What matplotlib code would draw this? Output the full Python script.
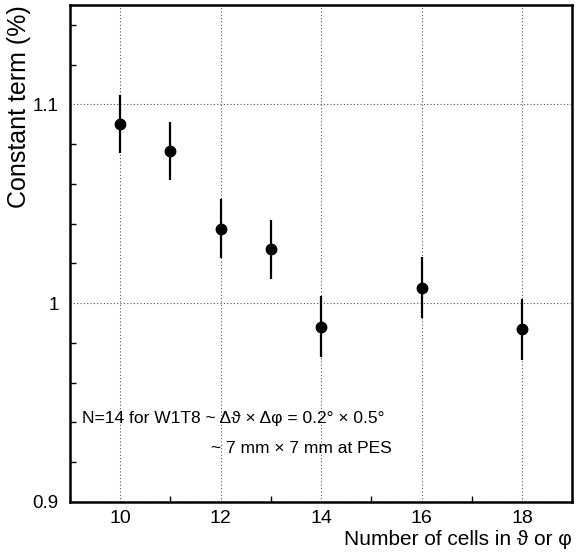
import matplotlib
matplotlib.use("Agg")
import matplotlib.pyplot as plt
from matplotlib.ticker import MultipleLocator

plt.rcParams['font.family'] = ['Liberation Sans', 'DejaVu Sans']

# data
nCells = [10, 11, 12, 13, 14, 16, 18]
constTerm = [1.0903, 1.0764, 1.0374, 1.0270, 0.9881, 1.0077, 0.9868]
constErr = [0.0146, 0.0146, 0.0148, 0.0148, 0.0155, 0.0154, 0.0153]

xTicks = [10, 12, 14, 16, 18]
yTicks = [0.9, 1.0, 1.1]
yTickLabels = ["0.9", "1", "1.1"]

fig = plt.figure(figsize=(5.78, 5.52), dpi=100)
ax = fig.add_axes([0.121, 0.091, 0.869, 0.900])

ax.errorbar(nCells, constTerm, yerr=constErr, fmt="o", color="black",
            markersize=7.5, elinewidth=1.6, capsize=0)

ax.set_xlim(9, 19)
ax.set_ylim(0.9, 1.15)
ax.set_xticks(xTicks)
ax.set_yticks(yTicks)
ax.set_yticklabels(yTickLabels)
ax.xaxis.set_minor_locator(MultipleLocator(1))
ax.yaxis.set_minor_locator(MultipleLocator(0.02))
ax.tick_params(which="both", direction="in", labelsize=14, colors="black")
ax.tick_params(which="major", length=0, pad=6)
ax.tick_params(axis="y", which="major", labelsize=13.5, pad=8)
ax.tick_params(which="minor", length=4, width=1)
ax.grid(True, which="major", linestyle=(0, (1, 2)), color="#555555", linewidth=0.8)

for s in ax.spines.values():
    s.set_linewidth(1.8)

ax.set_ylabel("Constant term (%)", fontsize=18, loc="top", labelpad=1)
ax.set_xlabel("Number of cells in ϑ or φ", fontsize=15, loc="right", labelpad=2)

ax.text(0.024, 0.168, "N=14 for W1T8 ~ Δϑ × Δφ = 0.2° × 0.5°", transform=ax.transAxes,
        fontsize=12.5, va="center", ha="left")
ax.text(0.281, 0.108, "~ 7 mm × 7 mm at PES", transform=ax.transAxes,
        fontsize=12.5, va="center", ha="left")

fig.savefig("out.png", dpi=100)
